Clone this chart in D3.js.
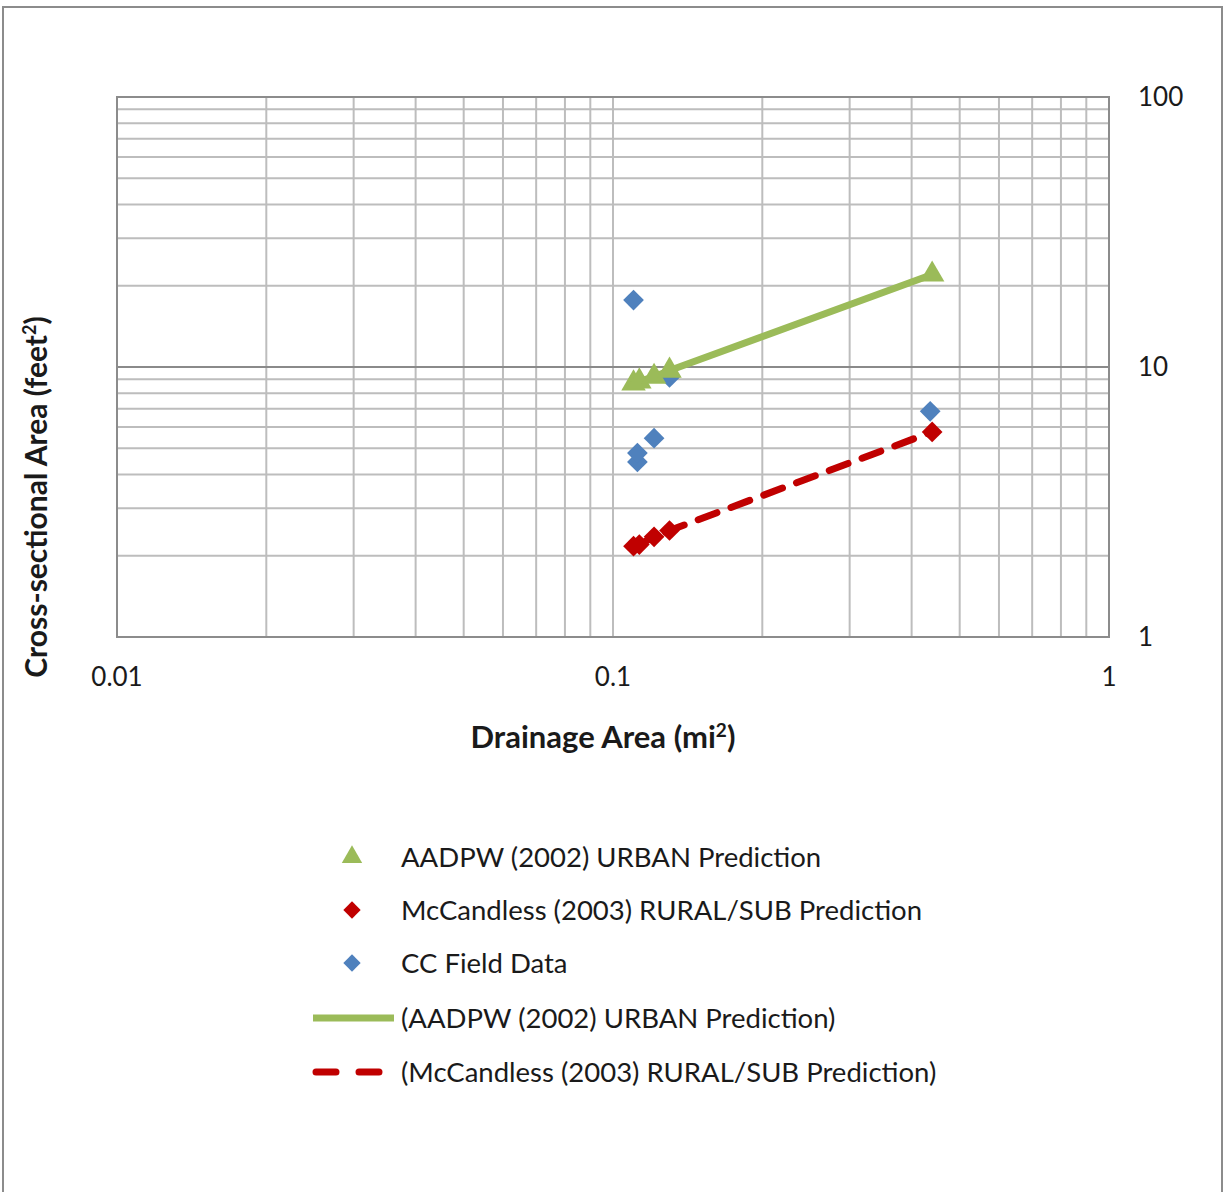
<!DOCTYPE html>
<html>
<head>
  <script src="https://cdn.jsdelivr.net/npm/d3@7"></script>
  <style>
    body { margin: 0; background: #fff; }
    svg text { font-family: Lato, "Open Sans", sans-serif; fill: #1a1a1a; }
  </style>
</head>
<body>
<script>
  // Data (drainage area mi², cross-sectional area ft²)
  const urbanX = [0.110, 0.113, 0.121, 0.130, 0.440];
  const urbanY = [8.70, 8.85, 9.20, 9.70, 22.0];
  const ruralX = [0.110, 0.113, 0.121, 0.130, 0.440];
  const ruralY = [2.17, 2.20, 2.35, 2.48, 5.75];
  const fieldX = [0.110, 0.112, 0.112, 0.121, 0.130, 0.436];
  const fieldY = [17.7, 4.45, 4.80, 5.45, 9.15, 6.85];
  const xTicks = [0.01, 0.1, 1];
  const yTicks = [1, 10, 100];
  const legendNames = [
    "AADPW (2002) URBAN Prediction",
    "McCandless (2003) RURAL/SUB Prediction",
    "CC Field Data",
    "(AADPW (2002) URBAN Prediction)",
    "(McCandless (2003) RURAL/SUB Prediction)"
  ];

  const W = 1225, H = 1192;
  const pLeft = 117, pRight = 1109, pTop = 97, pBottom = 637;
  const green = "#9bbb59", red = "#c00000", blue = "#4f81bd";

  const svg = d3.select("body").append("svg")
    .attr("width", W).attr("height", H);

  // outer frame
  svg.append("rect")
    .attr("x", 3).attr("y", 7).attr("width", 1219).attr("height", 1200)
    .attr("fill", "none").attr("stroke", "#8c8c8c").attr("stroke-width", 2);

  const x = d3.scaleLog().domain([0.01, 1]).range([pLeft, pRight]);
  const y = d3.scaleLog().domain([1, 100]).range([pBottom, pTop]);

  // minor + major gridlines
  const gridVals = [];
  [0.01, 0.1].forEach(d => { for (let k = 1; k <= 9; k++) gridVals.push(d * k); });
  gridVals.push(1);
  const gridY = [];
  [1, 10].forEach(d => { for (let k = 1; k <= 9; k++) gridY.push(d * k); });
  gridY.push(100);

  svg.append("g").selectAll("line").data(gridVals).enter().append("line")
    .attr("x1", d => x(d)).attr("x2", d => x(d))
    .attr("y1", pTop).attr("y2", pBottom)
    .attr("stroke", "#bdbdbd").attr("stroke-width", 2);

  svg.append("g").selectAll("line").data(gridY).enter().append("line")
    .attr("x1", pLeft).attr("x2", pRight)
    .attr("y1", d => y(d)).attr("y2", d => y(d))
    .attr("stroke", d => d === 10 ? "#8a8a8a" : "#bdbdbd")
    .attr("stroke-width", 2);

  // plot border
  svg.append("rect")
    .attr("x", pLeft).attr("y", pTop)
    .attr("width", pRight - pLeft).attr("height", pBottom - pTop)
    .attr("fill", "none").attr("stroke", "#8c8c8c").attr("stroke-width", 2);

  // tick labels
  svg.append("g").selectAll("text").data(xTicks).enter().append("text")
    .attr("x", d => x(d)).attr("y", pBottom + 49)
    .attr("text-anchor", "middle").attr("font-size", 26)
    .text(d => String(d));

  svg.append("g").selectAll("text").data(yTicks).enter().append("text")
    .attr("x", 1138).attr("y", d => y(d) + 9)
    .attr("font-size", 26)
    .text(d => d);

  // axis titles
  const xt = svg.append("text")
    .attr("x", 603).attr("y", 748)
    .attr("text-anchor", "middle").attr("font-size", 31).attr("font-weight", "bold");
  xt.append("tspan").text("Drainage Area (mi");
  xt.append("tspan").attr("font-size", 19).attr("dy", -11).text("2");
  xt.append("tspan").attr("dy", 11).text(")");

  const yt = svg.append("text")
    .attr("transform", "translate(47,497) rotate(-90)")
    .attr("text-anchor", "middle").attr("font-size", 30).attr("font-weight", "bold");
  yt.append("tspan").text("Cross-sectional Area (feet");
  yt.append("tspan").attr("font-size", 18).attr("dy", -11).text("2");
  yt.append("tspan").attr("dy", 11).text(")");

  // trend lines
  const line = d3.line().x(d => x(d[0])).y(d => y(d[1]));
  const urban = urbanX.map((d, i) => [d, urbanY[i]]);
  const rural = ruralX.map((d, i) => [d, ruralY[i]]);
  const field = fieldX.map((d, i) => [d, fieldY[i]]);

  svg.append("path").datum(rural).attr("d", line)
    .attr("fill", "none").attr("stroke", red).attr("stroke-width", 7)
    .attr("stroke-dasharray", "20,15").attr("stroke-linecap", "round");

  svg.append("path").datum(urban).attr("d", line)
    .attr("fill", "none").attr("stroke", green).attr("stroke-width", 7);

  const tri = d3.symbol().type(d3.symbolTriangle).size(260);
  const dia = d3.symbol().type(d3.symbolSquare).size(215);

  svg.append("g").selectAll("path").data(field).enter().append("path")
    .attr("d", dia).attr("fill", blue)
    .attr("transform", d => `translate(${x(d[0])},${y(d[1])}) rotate(45)`);

  svg.append("g").selectAll("path").data(rural).enter().append("path")
    .attr("d", dia).attr("fill", red)
    .attr("transform", d => `translate(${x(d[0])},${y(d[1])}) rotate(45)`);

  svg.append("g").selectAll("path").data(urban).enter().append("path")
    .attr("d", tri).attr("fill", green)
    .attr("transform", d => `translate(${x(d[0])},${y(d[1])})`);

  // legend
  const legY = [857, 910, 963, 1018, 1072];
  const leg = svg.append("g");
  legendNames.forEach((name, i) => {
    const cy = legY[i];
    if (i === 0) {
      leg.append("path").attr("d", d3.symbol().type(d3.symbolTriangle).size(180))
        .attr("fill", green).attr("transform", `translate(352,${cy})`);
    } else if (i === 1 || i === 2) {
      leg.append("path").attr("d", d3.symbol().type(d3.symbolSquare).size(150))
        .attr("fill", i === 1 ? red : blue)
        .attr("transform", `translate(352,${cy}) rotate(45)`);
    } else if (i === 3) {
      leg.append("line").attr("x1", 313).attr("x2", 394).attr("y1", cy).attr("y2", cy)
        .attr("stroke", green).attr("stroke-width", 7);
    } else {
      leg.append("line").attr("x1", 313).attr("x2", 394).attr("y1", cy).attr("y2", cy)
        .attr("stroke", red).attr("stroke-width", 7)
        .attr("stroke-dasharray", "20,23").attr("stroke-linecap", "round")
        .attr("stroke-dashoffset", -3);
    }
    leg.append("text").attr("x", 401).attr("y", cy + 10)
      .attr("font-size", 27.5).text(name);
  });
</script>
</body>
</html>
